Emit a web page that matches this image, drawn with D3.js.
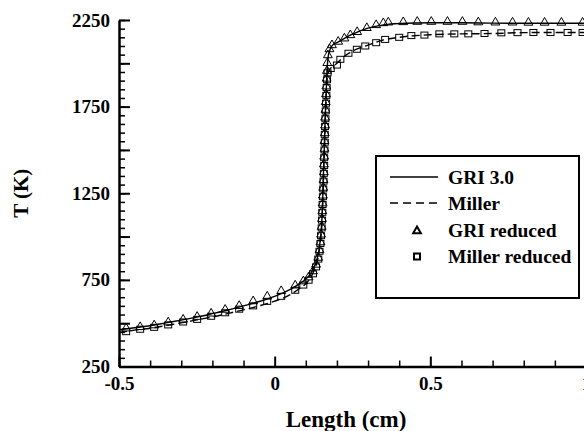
<!DOCTYPE html>
<html>
<head>
<meta charset="utf-8">
<script src="https://cdnjs.cloudflare.com/ajax/libs/d3/7.8.5/d3.min.js"></script>
<style>
  body { margin: 0; background: #fff; }
  text { font-family: "Liberation Serif", "Times New Roman", serif; font-weight: bold; }
</style>
</head>
<body>
<div id="chart-area"></div>
<script>
// GRI 3.0 (solid line)
var griX = [-0.5,-0.45,-0.4,-0.35,-0.3,-0.25,-0.2,-0.15,-0.1,-0.05,0,0.05,0.08,0.1,0.115,0.127,0.136,0.142,0.147,0.151,0.154,0.157,0.16,0.163,0.166,0.169,0.172,0.178,0.186,0.2,0.22,0.25,0.3,0.35,0.4,0.5,0.6,0.7,0.8,0.9,1.0];
var griT = [462,474,485,502,518,535,555,576,600,625,655,695,728,755,785,825,870,920,990,1070,1200,1380,1550,1720,1860,1980,2040,2080,2105,2120,2140,2168,2203,2222,2230,2234,2234,2232,2231,2231,2231];

// Miller (dashed line)
var millX = [-0.5,-0.45,-0.4,-0.35,-0.3,-0.25,-0.2,-0.15,-0.1,-0.05,0,0.05,0.08,0.1,0.115,0.127,0.136,0.142,0.147,0.151,0.154,0.157,0.16,0.163,0.166,0.169,0.175,0.185,0.2,0.22,0.25,0.3,0.35,0.4,0.5,0.6,0.7,0.8,0.9,1.0];
var millT = [445,460,471,486,502,519,536,556,577,600,627,665,700,728,762,805,852,905,975,1060,1180,1350,1520,1690,1830,1920,1960,1980,2000,2035,2070,2105,2135,2150,2165,2170,2172,2177,2178,2178];

// GRI reduced (triangles)
var griRedX = [-0.477,-0.432,-0.387,-0.342,-0.294,-0.249,-0.204,-0.159,-0.114,-0.069,-0.024,0.021,0.066,0.092,0.109,0.123,0.133,0.140,0.144,0.147,0.149,0.151,0.152,0.153,0.154,0.155,0.156,0.157,0.158,0.158,0.159,0.160,0.160,0.161,0.162,0.162,0.163,0.164,0.165,0.166,0.167,0.168,0.169,0.171,0.176,0.184,0.204,0.224,0.243,0.265,0.296,0.326,0.349,0.365,0.413,0.458,0.503,0.555,0.603,0.654,0.709,0.764,0.815,0.867,0.921,0.989];
var griRedT = [470,478,488,505,521,537,556,578,600,627,654,686,718,742,765,800,838,878,922,967,1012,1057,1102,1147,1192,1237,1282,1327,1372,1417,1462,1507,1552,1597,1642,1687,1732,1777,1822,1867,1912,1957,2002,2047,2082,2105,2125,2144,2163,2181,2204,2221,2232,2236,2238,2240,2240,2240,2240,2237,2236,2236,2235,2235,2235,2235];

// Miller reduced (squares)
var millRedX = [-0.477,-0.432,-0.387,-0.342,-0.294,-0.249,-0.204,-0.159,-0.114,-0.069,-0.024,0.021,0.066,0.092,0.109,0.123,0.133,0.140,0.144,0.147,0.149,0.151,0.152,0.153,0.154,0.155,0.156,0.157,0.158,0.159,0.159,0.160,0.161,0.161,0.162,0.163,0.164,0.165,0.166,0.167,0.168,0.170,0.180,0.2,0.211,0.237,0.264,0.291,0.326,0.355,0.4,0.439,0.481,0.529,0.577,0.622,0.674,0.728,0.78,0.831,0.886,0.941,0.989];
var millRedT = [451,465,476,490,507,522,540,560,581,600,626,655,690,720,748,785,825,870,915,960,1005,1050,1095,1140,1185,1230,1275,1320,1365,1410,1455,1500,1545,1590,1635,1680,1725,1770,1815,1860,1905,1945,1970,1990,2023,2058,2081,2100,2119,2138,2150,2160,2163,2170,2170,2170,2172,2176,2177,2178,2178,2178,2178];

// ticks
var yMajor = [250,500,750,1000,1250,1500,1750,2000,2250];
var yLabels = [250,750,1250,1750,2250];
var yMinor = d3.range(250, 2251, 50);
var xMajor = [-0.5,0,0.5,1];
var xMinor = [-0.4,-0.3,-0.2,-0.1,0.1,0.2,0.3,0.4,0.6,0.7,0.8,0.9];

var legendNames = ["GRI 3.0","Miller","GRI reduced","Miller reduced"];

var margin = {left:119, top:20, right:0, bottom:64.5};
var width = 467;
var height = 346.5;

var svg = d3.select('#chart-area').append('svg')
    .attr('width', 584)
    .attr('height', 431)
    .append("g")
        .attr("transform","translate("+margin.left+","+margin.top+")");

var x = d3.scaleLinear().domain([-0.5,1]).range([0,width]);
var y = d3.scaleLinear().domain([250,2250]).range([height,0]);

// minor ticks
svg.append("g")
    .attr("transform","translate(0,"+height+")")
    .call(d3.axisBottom(x).tickValues(xMinor).tickSize(-6).tickFormat(""))
    .call(function(g){ g.select(".domain").remove(); })
    .selectAll("line").attr("stroke-width",1.5);

svg.append("g")
    .call(d3.axisLeft(y).tickValues(yMinor).tickSize(-6).tickFormat(""))
    .call(function(g){ g.select(".domain").remove(); })
    .selectAll("line").attr("stroke-width",1.5);

// major ticks + labels
var xAxis = svg.append("g")
    .attr("transform","translate(0,"+height+")")
    .call(d3.axisBottom(x).tickValues(xMajor).tickSize(-10).tickSizeOuter(0).tickPadding(10)
        .tickFormat(function(d){ return String(d); }));
xAxis.select(".domain").attr("stroke-width",2.5);
xAxis.selectAll("line").attr("stroke-width",2);
xAxis.selectAll("text").attr("font-size","19px").attr("font-family","Liberation Serif").attr("font-weight","bold");

var yAxis = svg.append("g")
    .call(d3.axisLeft(y).tickValues(yMajor).tickSize(-11).tickSizeOuter(0).tickPadding(9)
        .tickFormat(function(d){ return yLabels.indexOf(d) >= 0 ? d : ""; }));
yAxis.select(".domain").attr("stroke-width",2.5);
yAxis.selectAll("line").attr("stroke-width",2);
yAxis.selectAll("text").attr("font-size","19px").attr("font-family","Liberation Serif").attr("font-weight","bold");

// axis titles
svg.append("text")
    .attr("x", 227)
    .attr("y", height+60)
    .attr("font-size","23px")
    .attr("text-anchor","middle")
    .text("Length (cm)");

svg.append("text")
    .attr("x", -(height/2))
    .attr("y", -91)
    .attr("font-size","21px")
    .attr("text-anchor","middle")
    .attr("transform","rotate(-90)")
    .text("T (K)");

// lines
var griData = griX.map(function(d,i){ return {x:d, t:griT[i]}; });
var millData = millX.map(function(d,i){ return {x:d, t:millT[i]}; });
var line = d3.line()
    .x(function(d){ return x(d.x); })
    .y(function(d){ return y(d.t); })
    .curve(d3.curveMonotoneX);

svg.append("path")
    .datum(griData)
    .attr("d", line)
    .attr("fill","none")
    .attr("stroke","black")
    .attr("stroke-width",1.4);

svg.append("path")
    .datum(millData)
    .attr("d", line)
    .attr("fill","none")
    .attr("stroke","black")
    .attr("stroke-width",1.4)
    .style("stroke-dasharray","8,4");

// markers
var griRed = griRedX.map(function(d,i){ return {x:d, t:griRedT[i]}; });
var millRed = millRedX.map(function(d,i){ return {x:d, t:millRedT[i]}; });

var triangle = d3.symbol().type(d3.symbolTriangle).size(34);
svg.selectAll(".tri")
    .data(griRed)
    .enter()
    .append("path")
    .attr("class","tri")
    .attr("d", triangle)
    .attr("transform", function(d){ return "translate("+x(d.x)+","+y(d.t)+")"; })
    .attr("fill","none")
    .attr("stroke","black")
    .attr("stroke-width",1);

svg.selectAll(".sq")
    .data(millRed)
    .enter()
    .append("rect")
    .attr("class","sq")
    .attr("x", function(d){ return x(d.x)-3.5; })
    .attr("y", function(d){ return y(d.t)-3; })
    .attr("width",7)
    .attr("height",6)
    .attr("fill","none")
    .attr("stroke","black")
    .attr("stroke-width",1);

// legend
var legend = svg.append("g")
    .attr("transform","translate("+(376-margin.left)+","+(156-margin.top)+")");

legend.append("rect")
    .attr("width",203)
    .attr("height",142)
    .attr("fill","white")
    .attr("stroke","black")
    .attr("stroke-width",2);

var rowY = [21,47,74,100];

legend.append("line")
    .attr("x1",14).attr("x2",62).attr("y1",rowY[0]).attr("y2",rowY[0])
    .attr("stroke","black").attr("stroke-width",1.5);
legend.append("line")
    .attr("x1",14).attr("x2",62).attr("y1",rowY[1]).attr("y2",rowY[1])
    .attr("stroke","black").attr("stroke-width",1.5)
    .style("stroke-dasharray","8,5");
legend.append("path")
    .attr("d", d3.symbol().type(d3.symbolTriangle).size(26))
    .attr("transform","translate(41,"+(rowY[2]+1)+")")
    .attr("fill","none").attr("stroke","black").attr("stroke-width",2);
legend.append("rect")
    .attr("x",38).attr("y",rowY[3]-2.5).attr("width",6).attr("height",6)
    .attr("fill","none").attr("stroke","black").attr("stroke-width",2);

legend.selectAll(".lbl")
    .data(legendNames)
    .enter()
    .append("text")
    .attr("class","lbl")
    .attr("x",72)
    .attr("y",function(d,i){ return rowY[i]; })
    .attr("dy","0.35em")
    .attr("font-size","19.5px")
    .text(function(d){ return d; });
</script>
</body>
</html>
